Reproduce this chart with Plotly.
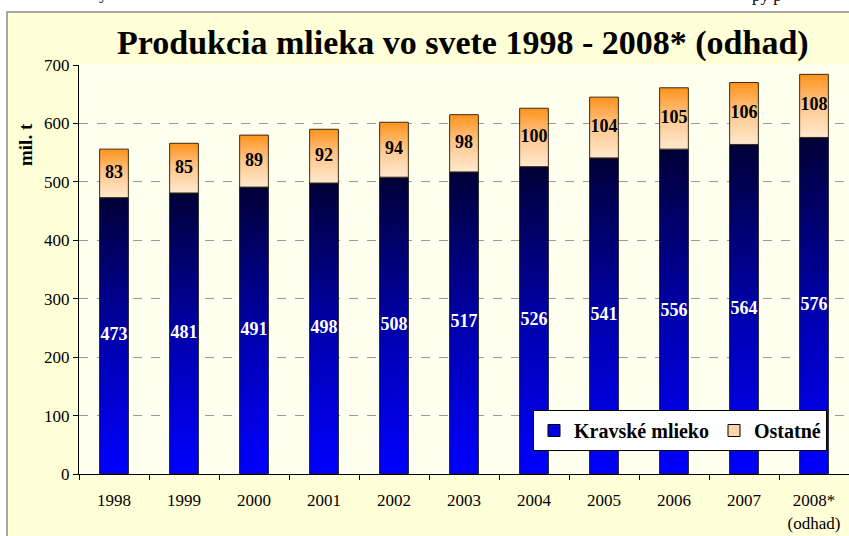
import plotly.graph_objects as go

# ---- data ----
years = ["1998", "1999", "2000", "2001", "2002", "2003", "2004", "2005", "2006", "2007", "2008*<br>(odhad)"]
kravske = [473, 481, 491, 498, 508, 517, 526, 541, 556, 564, 576]
ostatne = [83, 85, 89, 92, 94, 98, 100, 104, 105, 106, 108]
y_ticks = [0, 100, 200, 300, 400, 500, 600, 700]
title_text = "Produkcia mlieka vo svete 1998 - 2008* (odhad)"
ylabel = "mil. t"
series_names = ["Kravské mlieko", "Ostatné"]

W, H = 849, 536
ML, MR, MT, MB = 79, 0, 65, 62
PW, PH = W - ML - MR, H - MT - MB

def px_x(p):
    return (p - ML) / PW

def px_y(p):
    return (H - MB - p) / PH

SERIF = "Liberation Serif, Times New Roman, serif"
HALF = 0.205

blue_scale = [[0, "#0000FF"], [0.45, "#0000B4"], [0.85, "#00005A"], [1, "#000036"]]
orange_scale = [[0, "#FFE9CF"], [0.5, "#FFC88E"], [1, "#FF931C"]]

fig = go.Figure()

for i, (k, o) in enumerate(zip(kravske, ostatne)):
    xs = [i - HALF, i + HALF, i + HALF, i - HALF, i - HALF]
    fig.add_trace(go.Scatter(
        x=xs, y=[0, 0, k, k, 0], mode="lines", fill="toself",
        line=dict(color="#1a1a1a", width=1),
        fillgradient=dict(type="vertical", colorscale=blue_scale, start=0, stop=k),
        showlegend=False, hoverinfo="skip"))
    fig.add_trace(go.Scatter(
        x=xs, y=[k, k, k + o, k + o, k], mode="lines", fill="toself",
        line=dict(color="#3a2a10", width=1),
        fillgradient=dict(type="vertical", colorscale=orange_scale, start=k, stop=k + o),
        showlegend=False, hoverinfo="skip"))

idx = list(range(len(years)))
fig.add_trace(go.Scatter(
    x=idx, y=[k / 2 for k in kravske], mode="text",
    text=[str(k) for k in kravske],
    textfont=dict(family=SERIF, size=18, color="white", weight="bold"),
    showlegend=False, hoverinfo="skip"))
fig.add_trace(go.Scatter(
    x=idx, y=[k + o / 2 for k, o in zip(kravske, ostatne)], mode="text",
    text=[str(o) for o in ostatne],
    textfont=dict(family=SERIF, size=18, color="black", weight="bold"),
    showlegend=False, hoverinfo="skip"))

# legend entries
fig.add_trace(go.Bar(x=[None], y=[None], name=series_names[0],
                     marker=dict(color="#0000E0", line=dict(color="black", width=1))))
fig.add_trace(go.Bar(x=[None], y=[None], name=series_names[1],
                     marker=dict(color="#FFD4A6", line=dict(color="black", width=1))))

shapes = [
    # outer frame
    dict(type="rect", xref="paper", yref="paper",
         x0=px_x(7), x1=px_x(870), y0=px_y(560), y1=px_y(12),
         fillcolor="#FFFFD8", line=dict(color="#8a8a8a", width=1.5), layer="below"),
    # plot area background
    dict(type="rect", xref="x domain", yref="y domain", x0=0, x1=1, y0=0, y1=1,
         fillcolor="#FFFFF0", line=dict(width=0), layer="below"),
]

annotations = [
    dict(text=title_text, xref="paper", yref="paper", x=px_x(463), y=px_y(43),
         xanchor="center", yanchor="middle", showarrow=False,
         font=dict(family=SERIF, size=34, color="black", weight="bold")),
    dict(text=ylabel, xref="paper", yref="paper", x=px_x(25), y=px_y(145),
         xanchor="center", yanchor="middle", showarrow=False, textangle=-90,
         font=dict(family=SERIF, size=19, color="black", weight="bold")),
    # cut-off text from the page above the chart
    dict(text="y", xref="paper", yref="paper", x=px_x(103), y=px_y(5),
         xanchor="center", yanchor="bottom", showarrow=False,
         font=dict(family=SERIF, size=17, color="black")),
    dict(text="py p", xref="paper", yref="paper", x=px_x(767), y=px_y(7),
         xanchor="center", yanchor="bottom", showarrow=False,
         font=dict(family=SERIF, size=17, color="black")),
]

fig.update_layout(
    width=W, height=H,
    margin=dict(l=ML, r=MR, t=MT, b=MB, pad=0),
    paper_bgcolor="white", plot_bgcolor="rgba(0,0,0,0)",
    shapes=shapes, annotations=annotations,
    barmode="overlay",
    legend=dict(orientation="h", x=px_x(533), y=px_y(410), xanchor="left", yanchor="top",
                bgcolor="white", bordercolor="black", borderwidth=1,
                font=dict(family=SERIF, size=20, color="black", weight="bold"),
                itemclick=False, itemdoubleclick=False),
    xaxis=dict(range=[-0.5, 10.5], tickmode="array", tickvals=idx, ticktext=years,
               ticks="outside", ticklen=11, tickcolor="rgba(0,0,0,0)",
               showline=True, linecolor="black", linewidth=1,
               showgrid=False, zeroline=False, fixedrange=True,
               tickfont=dict(family=SERIF, size=17, color="black"),
               minor=dict(tickmode="array", tickvals=[i - 0.5 for i in range(len(years) + 1)],
                          ticks="outside", ticklen=5, tickcolor="black", showgrid=False)),
    yaxis=dict(range=[0, 700], tickmode="array", tickvals=y_ticks,
               ticks="outside", ticklen=5, tickcolor="black",
               showline=True, linecolor="black", linewidth=1,
               showgrid=True, gridcolor="#9a9a9a", griddash="dash", gridwidth=1,
               zeroline=False, fixedrange=True,
               tickfont=dict(family=SERIF, size=17, color="black")),
)

fig.write_html("out.html")
